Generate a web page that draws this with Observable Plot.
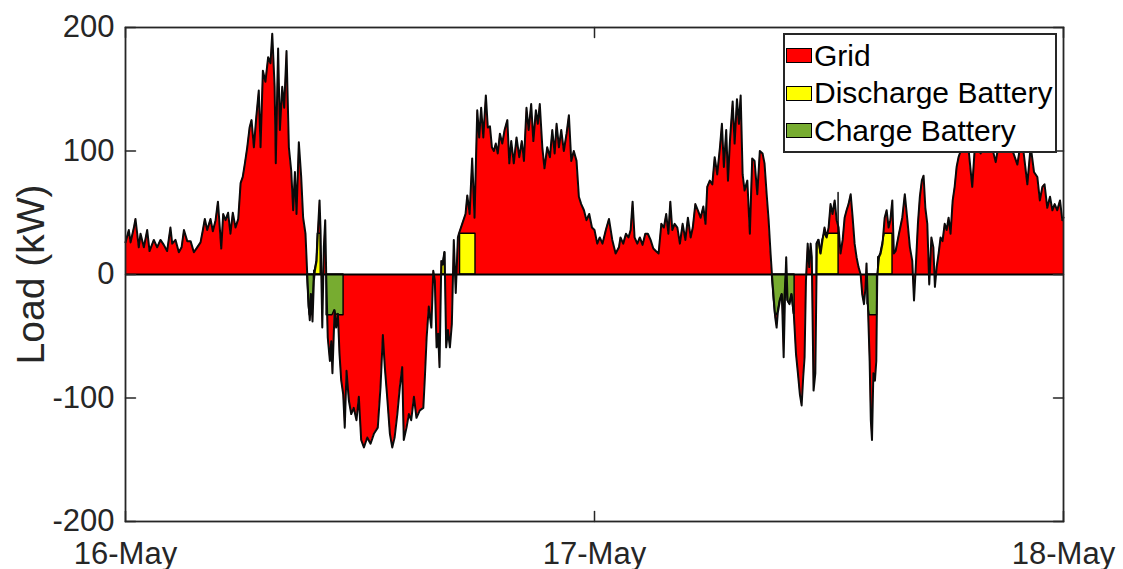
<!DOCTYPE html>
<html><head><meta charset="utf-8">
<script src="https://cdn.jsdelivr.net/npm/d3@7"></script>
<script src="https://cdn.jsdelivr.net/npm/@observablehq/plot@0.6"></script>
<style>
body{margin:0;background:#fff;}
#wrap{position:relative;width:1123px;height:569px;font-family:"Liberation Sans",Arial,sans-serif;}
#legend{position:absolute;left:783px;top:33px;width:270px;height:114px;border:2px solid #262626;background:#fff;padding-top:2px;box-sizing:content-box;}
.row{display:flex;align-items:center;height:37.5px;font-size:30px;color:#000;white-space:nowrap;}
.sw{width:24px;height:13px;border:1px solid #000;margin-left:1px;margin-right:2px;flex:none;}
</style></head><body><div id="wrap"></div>
<script>
// Time axis in hours from 16-May 00:00
const dayTicks = [0, 24, 48];
const dayLabels = ["16-May", "17-May", "18-May"];
const yTicks = [-200, -100, 0, 100, 200];
const seriesNames = ["Grid", "Discharge Battery", "Charge Battery"];
const seriesColors = ["#ff0000", "#ffff00", "#77ac30"];
const batteryRating = 33; // kW

// Total load readings [hour, kW]
const loadReadings = [
[0,26],[0.17,36],[0.26,26],[0.43,38],[0.51,45],[0.68,22],[0.77,33],[0.94,22],[1.11,36],[1.23,19],[1.45,28],[1.62,22],[1.79,28],[1.96,24],[2.13,19],[2.30,38],[2.39,25],[2.56,28],[2.73,18],[2.87,22],[2.99,36],[3.16,27],[3.33,27],[3.50,18],[3.67,22],[3.84,26],[3.96,36],[4.06,45],[4.18,36],[4.35,45],[4.47,35],[4.61,44],[4.73,59],[4.90,21],[5.00,49],[5.12,44],[5.25,50],[5.37,33],[5.49,50],[5.63,38],[5.77,45],[5.89,74],[6.00,79],[6.11,90],[6.23,103],[6.35,119],[6.45,125],[6.57,103],[6.69,127],[6.82,149],[6.91,103],[7.03,165],[7.16,156],[7.30,176],[7.42,171],[7.51,195],[7.63,152],[7.69,90],[7.81,183],[7.90,117],[8.02,152],[8.12,135],[8.24,181],[8.36,103],[8.48,84],[8.58,52],[8.67,83],[8.75,49],[8.87,107],[8.99,79],[9.09,46],[9.21,33],[9.30,0],
[9.38,-26],[9.43,-37],[9.50,-16],[9.57,-38],[9.64,-5],[9.69,3],[9.78,11],[9.84,33],[9.93,60],[9.98,36],[10.07,-43],[10.15,22],[10.22,44],[10.27,0],[10.35,-51],[10.46,-70],[10.53,-54],[10.59,-80],[10.70,-29],[10.78,-43],[10.87,-32],[10.95,-64],[11.04,-86],[11.14,-97],[11.22,-124],[11.31,-78],[11.43,-102],[11.55,-113],[11.68,-108],[11.82,-118],[11.94,-99],[12.06,-134],[12.20,-140],[12.37,-132],[12.54,-137],[12.71,-129],[12.91,-124],[13.05,-91],[13.17,-49],[13.27,-75],[13.39,-99],[13.53,-129],[13.65,-140],[13.77,-132],[13.91,-113],[14.04,-91],[14.16,-75],[14.24,-134],[14.38,-124],[14.50,-113],[14.62,-118],[14.76,-99],[14.89,-116],[15.06,-110],[15.24,-108],[15.32,-83],[15.41,-51],[15.52,-26],[15.65,-43],[15.75,3],[15.83,-5],[15.92,-59],[16.00,-48],[16.07,-75],[16.16,11],[16.24,8],[16.33,18],[16.41,-59],[16.50,-45],[16.60,-59],[16.70,-40],[16.80,28],[16.90,-15],[17.01,30],
[17.06,33],[17.23,41],[17.40,49],[17.49,64],[17.61,49],[17.74,94],[17.86,46],[18.00,133],[18.10,111],[18.20,135],[18.31,111],[18.44,145],[18.54,119],[18.65,120],[18.75,103],[18.85,100],[18.95,106],[19.05,98],[19.16,114],[19.28,106],[19.40,117],[19.54,125],[19.64,90],[19.74,108],[19.87,90],[20.01,111],[20.15,95],[20.28,108],[20.39,92],[20.52,135],[20.63,117],[20.76,138],[20.87,108],[21.00,133],[21.10,122],[21.20,138],[21.33,103],[21.44,86],[21.58,103],[21.72,95],[21.84,117],[21.96,98],[22.06,122],[22.18,103],[22.30,117],[22.43,100],[22.57,114],[22.69,129],[22.81,92],[22.94,100],[23.08,92],[23.20,63],[23.32,57],[23.46,52],[23.59,44],[23.73,49],[23.87,38],[24.00,36],[24.14,25],[24.27,30],[24.41,25],[24.58,36],[24.74,45],[24.91,28],[25.08,17],[25.25,22],
[25.33,30],[25.47,25],[25.61,33],[25.74,30],[25.85,36],[25.95,59],[26.05,30],[26.19,25],[26.32,30],[26.46,24],[26.60,33],[26.73,33],[26.87,28],[27.01,21],[27.14,19],[27.28,17],[27.42,41],[27.55,38],[27.67,49],[27.78,33],[27.88,59],[27.98,36],[28.10,41],[28.24,38],[28.37,25],[28.51,41],[28.65,28],[28.78,46],[28.92,30],[29.03,38],[29.16,57],[29.29,52],[29.43,46],[29.57,55],[29.68,41],[29.77,71],[29.90,76],[30.03,73],[30.15,95],[30.28,81],[30.42,103],[30.52,122],[30.62,87],[30.74,117],[30.83,76],[30.93,108],[31.07,140],[31.17,106],[31.29,142],[31.39,122],[31.48,145],[31.58,81],[31.68,68],[31.82,76],[31.95,33],[32.07,94],[32.19,92],[32.33,65],[32.46,100],[32.60,98],[32.70,90],[32.81,65],[32.91,44],[33.01,17],[33.08,0],
[33.18,-21],[33.25,-35],[33.32,-43],[33.38,-31],[33.49,-21],[33.59,-16],[33.68,-67],[33.76,-10],[33.81,14],[33.88,-21],[33.98,-24],[34.09,-16],[34.20,-32],[34.31,-64],[34.41,-80],[34.51,-97],[34.60,-106],[34.68,-83],[34.75,-67],[34.82,-5],[34.91,25],[34.99,6],[35.06,25],[35.12,14],[35.21,-94],[35.30,-80],[35.38,25],[35.47,28],[35.57,17],[35.67,28],[35.77,38],[35.88,30],[35.98,38],[36.08,57],[36.18,49],[36.29,60],[36.39,44],[36.49,38],[36.59,17],[36.70,28],[36.80,46],[36.90,52],[37.00,57],[37.11,65],[37.21,46],[37.31,25],[37.41,14],[37.51,6],[37.62,0],[37.70,-16],[37.79,-24],[37.87,-10],[37.92,9],[37.99,-24],[38.08,-70],[38.14,-118],[38.20,-134],[38.27,-80],[38.35,-86],[38.42,-70],[38.47,0],[38.56,14],[38.64,17],[38.74,25],[38.85,46],[38.95,52],[39.05,38],[39.14,44],[39.24,60],[39.32,17],[39.41,19],[39.58,33],[39.75,46],[39.88,65],[40.01,44],[40.14,22],[40.26,11],[40.35,-21],[40.45,9],[40.55,41],[40.65,63],[40.75,76],[40.84,80],[40.93,54],[41.03,41],[41.13,-8],[41.24,30],[41.34,22],[41.42,-10],[41.51,6],[41.61,17],[41.71,30],[41.81,27],[41.92,41],[42.02,36],[42.12,46],[42.22,33],[42.33,60],[42.43,71],[42.53,87],[42.63,95],[42.74,100],[42.84,110],[43.04,118],[43.33,71],[43.50,112],[43.76,98],[44.01,120],[44.27,108],[44.53,91],[44.78,115],[45.04,122],[45.29,105],[45.64,89],[45.86,112],[46.15,73],[46.32,104],[46.49,83],[46.66,79],[46.79,60],[46.92,71],[47.03,73],[47.17,54],[47.31,63],[47.43,52],[47.55,57],[47.68,52],[47.82,60],[47.94,44],[48.00,46]
];

// Battery operation windows (hours)
const dischargeStart = [9.66, 16.20, 17.12, 35.37, 38.52];
const dischargeEnd   = [9.99, 16.35, 17.91, 36.49, 39.25];
const chargeStart    = [9.30, 10.29, 33.08, 37.97];
const chargeEnd      = [9.64, 11.16, 34.24, 38.46];

const series = loadReadings.map(([t, v]) => ({t, v}));

function batteryPoints(starts, ends, clamp) {
  const pts = [];
  starts.forEach((s, k) => {
    const e = ends[k];
    const inside = series.filter(d => d.t >= s && d.t <= e);
    if (!inside.length) return;
    pts.push({t: s, b: 0, id: k});
    pts.push({t: s, b: clamp(inside[0].v), id: k});
    inside.forEach(d => pts.push({t: d.t, b: clamp(d.v), id: k}));
    pts.push({t: e, b: clamp(inside[inside.length - 1].v), id: k});
    pts.push({t: e, b: 0, id: k});
  });
  return pts;
}
const discharge = batteryPoints(dischargeStart, dischargeEnd, v => Math.min(Math.max(v, 0), batteryRating));
const charge = batteryPoints(chargeStart, chargeEnd, v => Math.max(Math.min(v, 0), -batteryRating));

const tickShape = {draw(ctx, l) { ctx.moveTo(0, 0); ctx.lineTo(0, -l); }};
const ink = "#262626";

const chart = Plot.plot({
  width: 1123,
  height: 569,
  marginLeft: 125,
  marginRight: 60,
  marginTop: 27,
  marginBottom: 48,
  style: {fontFamily: "'Liberation Sans', Arial, sans-serif", background: "white", overflow: "visible", color: ink},
  x: {domain: [0, 48]},
  y: {domain: [-200, 200]},
  marks: [
    Plot.areaY(series, {x: "t", y: "v", fill: seriesColors[0]}),
    Plot.areaY(discharge, {x: "t", y: "b", z: "id", fill: seriesColors[1], stroke: "black", strokeWidth: 1.4}),
    Plot.areaY(charge, {x: "t", y: "b", z: "id", fill: seriesColors[2], stroke: "black", strokeWidth: 1.4}),
    Plot.ruleY([0], {stroke: "black", strokeWidth: 1.8}),
    Plot.line(series, {x: "t", y: "v", stroke: "#0a0a0a", strokeWidth: 2}),
    Plot.frame({stroke: ink, strokeWidth: 1.8}),
    Plot.vector(yTicks, {y: d => d, frameAnchor: "left", length: 10, rotate: 90, anchor: "start", shape: tickShape, stroke: ink, strokeWidth: 1.5}),
    Plot.vector(yTicks, {y: d => d, frameAnchor: "right", length: 10, rotate: -90, anchor: "start", shape: tickShape, stroke: ink, strokeWidth: 1.5}),
    Plot.vector(dayTicks, {x: d => d, frameAnchor: "bottom", length: 10, rotate: 0, anchor: "start", shape: tickShape, stroke: ink, strokeWidth: 1.5}),
    Plot.vector(dayTicks, {x: d => d, frameAnchor: "top", length: 10, rotate: 180, anchor: "start", shape: tickShape, stroke: ink, strokeWidth: 1.5}),
    Plot.axisX(dayTicks, {tickSize: 0, tickPadding: 20, fontSize: 31, fill: ink, label: null, tickFormat: d => dayLabels[dayTicks.indexOf(d)]}),
    Plot.axisY(yTicks, {tickSize: 0, tickPadding: 11, fontSize: 31, fill: ink, label: null, tickFormat: d => String(d)}),
    Plot.text(["Load (kW)"], {frameAnchor: "left", textAnchor: "middle", lineAnchor: "middle", dx: -94, rotate: -90, fontSize: 39, fill: ink})
  ]
});

const wrap = document.getElementById("wrap");
wrap.appendChild(chart);
const legend = document.createElement("div");
legend.id = "legend";
seriesNames.forEach((name, i) => {
  const row = document.createElement("div");
  row.className = "row";
  const sw = document.createElement("span");
  sw.className = "sw";
  sw.style.background = seriesColors[i];
  const label = document.createElement("span");
  label.textContent = name;
  row.appendChild(sw);
  row.appendChild(label);
  legend.appendChild(row);
});
wrap.appendChild(legend);
</script>
</body></html>
